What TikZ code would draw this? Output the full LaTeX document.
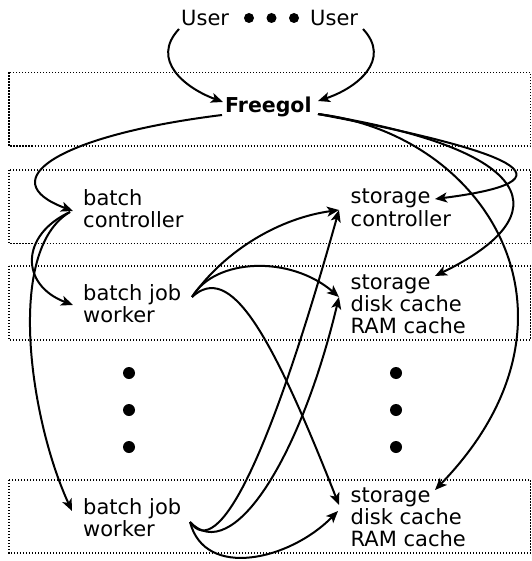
\documentclass[tikz,border=0pt]{standalone}
\usepackage{fontspec}
\setmainfont{DejaVu Sans}
\usetikzlibrary{arrows.meta}

% multi-line label whose baseline is that of its first line
\newcommand{\lines}[1]{\begin{tabular}[t]{@{}l@{}}#1\end{tabular}}

\begin{document}
\begin{tikzpicture}[x=1pt,y=-1pt,
  every node/.style={inner sep=0pt, anchor=base west,
    font=\fontsize{21}{20.8}\selectfont},
  lane/.style={line width=1.3pt, dash pattern=on 1.3pt off 1.7pt},
  conn/.style={line width=2pt, -{Stealth[length=12pt,width=10pt,inset=3pt]}},
  bigdot/.style={circle, fill=black, inner sep=0pt, minimum size=12pt, anchor=center},
  smalldot/.style={circle, fill=black, inner sep=0pt, minimum size=10pt, anchor=center}]
\useasboundingbox (0,0) rectangle (531,561);

% horizontal lanes
\draw[lane] (9,72.5) rectangle (530.5,146);
\draw[lane] (9,170) rectangle (530.5,243.5);
\draw[lane] (9,266) rectangle (530.5,340);
\draw[lane] (9,480) rectangle (530.5,553);

% users and front end
\node (uL) at (181,26) {User};
\node (uR) at (310,26) {User};
\node[smalldot] (u1) at (249,18) {};
\node[smalldot] (u2) at (271.5,18) {};
\node[smalldot] (u3) at (294,18) {};
\node[font=\fontsize{20.5}{20.8}\selectfont\bfseries] (fg) at (225,113) {Freegol};

% batch side
\node (bc)  at (83,205) {\lines{batch\\controller}};
\node (wk1) at (83,300) {\lines{batch job\\worker}};
\node (wk2) at (83,514) {\lines{batch job\\worker}};
\node[bigdot] (lb1) at (129,373) {};
\node[bigdot] (lb2) at (129,410) {};
\node[bigdot] (lb3) at (129,447) {};

% storage side
\node (sc)  at (350.5,204)   {\lines{storage\\controller}};
\node (st1) at (350.5,289.5) {\lines{storage\\disk cache\\RAM cache}};
\node (st2) at (350.5,502.5) {\lines{storage\\disk cache\\RAM cache}};
\node[bigdot] (rb1) at (396,373) {};
\node[bigdot] (rb2) at (396,410) {};
\node[bigdot] (rb3) at (396,447) {};

% users to Freegol
\draw[conn] ([shift={(-2,3)}]uL.base west) .. controls (150,60) and (185,88) .. ([shift={(-2,-11)}]fg.base west);
\draw[conn] ([shift={(53,3)}]uR.base west) .. controls (392,60) and (357,88) .. ([shift={(93,-12)}]fg.base west);

% Freegol to controllers and caches
\draw[conn] ([shift={(-3,2)}]fg.base west) .. controls (60,135) and (-10,180) .. ([shift={(-10,6)}]bc.base west);
\draw[conn] ([shift={(93,1)}]fg.base west) .. controls (480,145) and (600,178) .. ([shift={(84.5,-5)}]sc.base west);
\draw[conn] ([shift={(93,1)}]fg.base west) .. controls (540,150) and (560,215) .. ([shift={(84.5,-13.5)}]st1.base west);
\draw[conn] ([shift={(93,1)}]fg.base west) .. controls (490,135) and (600,320) .. ([shift={(84.5,-12.5)}]st2.base west);

% batch controller to workers
\draw[conn] ([shift={(-13,7)}]bc.base west) .. controls (20,235) and (20,285) .. ([shift={(-10,5)}]wk1.base west);
\draw[conn] ([shift={(-13,7)}]bc.base west) .. controls (5,250) and (30,420) .. ([shift={(-11,-3)}]wk2.base west);

% first worker to storage
\draw[conn] ([shift={(109,-3)}]wk1.base west) .. controls (225,250) and (280,218) .. ([shift={(-11.5,6)}]sc.base west);
\draw[conn] ([shift={(109,-3)}]wk1.base west) .. controls (215,258) and (290,255) .. ([shift={(-11.5,7.5)}]st1.base west);
\draw[conn] ([shift={(109,-3)}]wk1.base west) .. controls (230,262) and (270,330) .. ([shift={(-11.5,2.5)}]st2.base west);

% last worker to storage
\draw[conn] ([shift={(107,8)}]wk2.base west) .. controls (218,562) and (269,460) .. ([shift={(-11.5,6)}]sc.base west);
\draw[conn] ([shift={(107,8)}]wk2.base west) .. controls (232,566) and (300,460) .. ([shift={(-11.5,7.5)}]st1.base west);
\draw[conn] ([shift={(107,8)}]wk2.base west) .. controls (205,580) and (290,560) .. ([shift={(-12.5,8.5)}]st2.base west);
\end{tikzpicture}
\end{document}
